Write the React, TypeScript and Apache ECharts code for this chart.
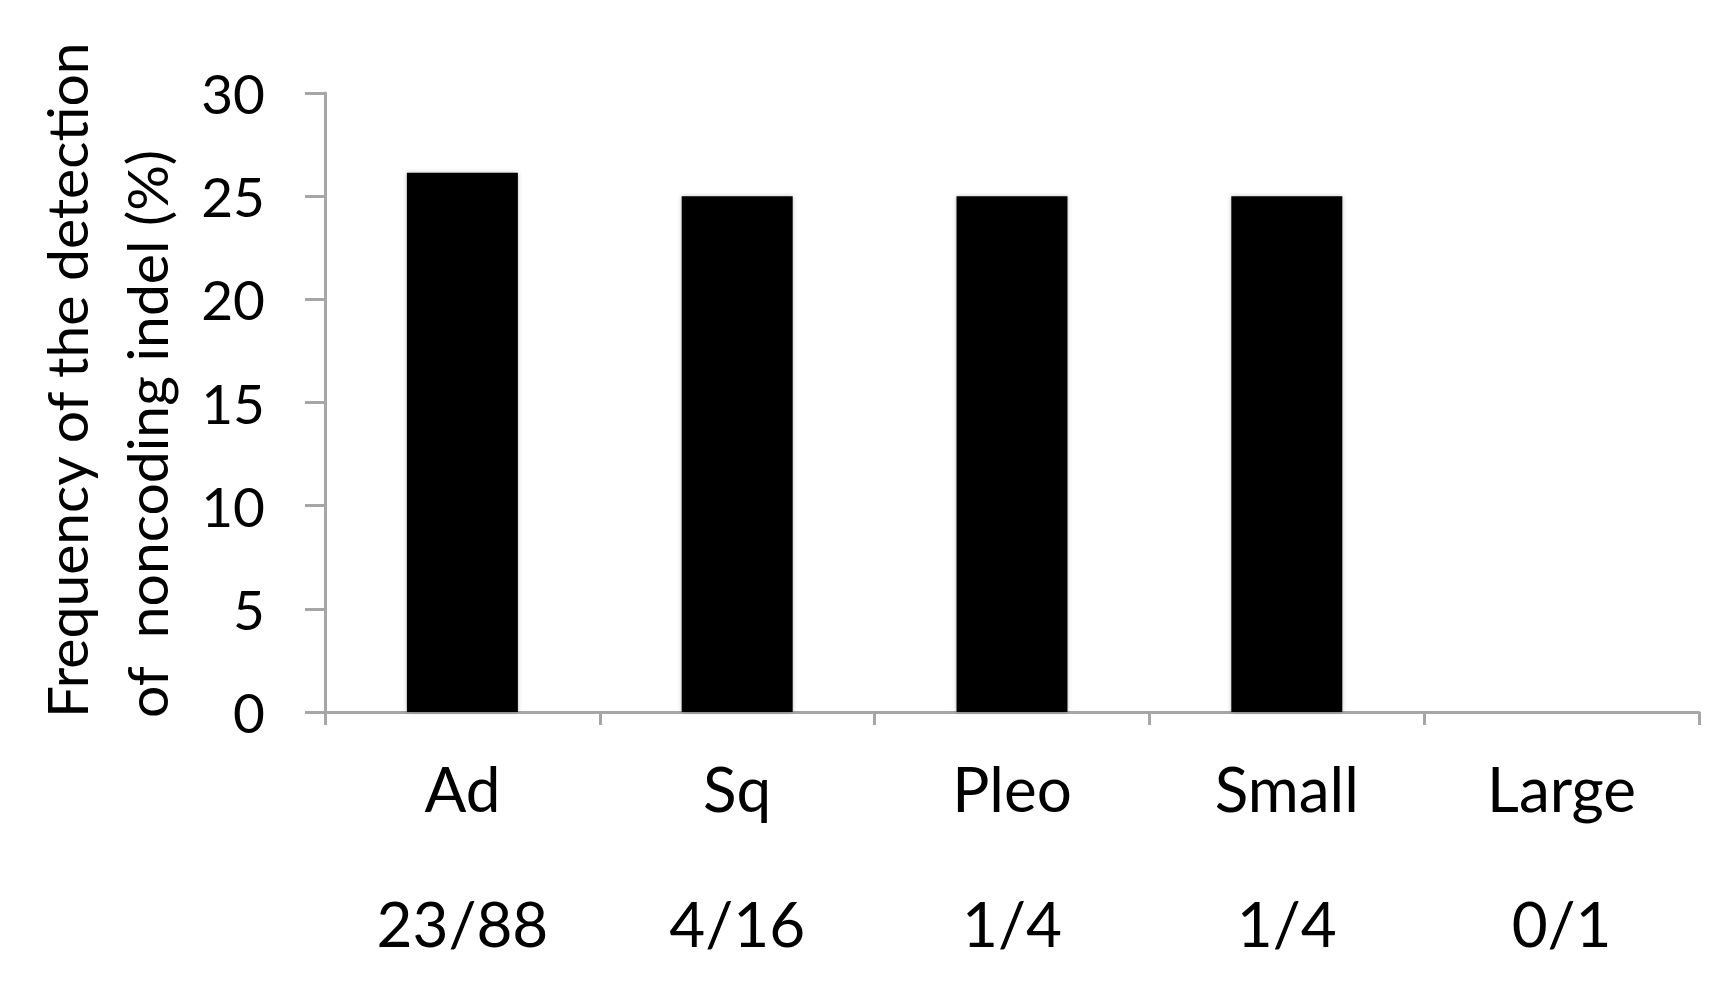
import React, { useEffect, useRef } from "react";
import * as echarts from "echarts";

const categories = ["Ad", "Sq", "Pleo", "Small", "Large"];
const counts = ["23/88", "4/16", "1/4", "1/4", "0/1"];
const frequencies = [26.14, 25, 25, 25, 0];
const yTicks = { min: 0, max: 30, interval: 5 };
const titleLines = ["Frequency of the detection", "of  noncoding indel (%)"];

const FONT = "Lato";

export default function App() {
  const ref = useRef<HTMLDivElement>(null);
  useEffect(() => {
    if (!ref.current) return;
    const chart = echarts.init(ref.current, null, { renderer: "svg" });
    chart.setOption({
      animation: false,
      backgroundColor: "#ffffff",
      grid: { left: 317, top: 85, right: 24, bottom: 277, containLabel: false },
      xAxis: {
        type: "category",
        data: categories.map((c, i) => c + "|" + counts[i]),
        axisLine: { lineStyle: { color: "#A6A6A6", width: 3 } },
        axisTick: { show: true, length: 13, lineStyle: { color: "#A6A6A6", width: 3 } },
        axisLabel: {
          margin: 8,
          interval: 0,
          formatter: (v: string) => {
            const [a, b] = v.split("|");
            return `{a|${a}}\n{b|${b}}`;
          },
          rich: {
            a: { fontFamily: FONT, fontSize: 62, color: "#000", lineHeight: 135 },
            b: { fontFamily: FONT, fontSize: 62, color: "#000", lineHeight: 135 },
          },
        },
      },
      yAxis: {
        type: "value",
        min: yTicks.min,
        max: yTicks.max,
        interval: yTicks.interval,
        splitLine: { show: false },
        axisLine: { show: true, lineStyle: { color: "#A6A6A6", width: 3 } },
        axisTick: { show: true, length: 20, lineStyle: { color: "#A6A6A6", width: 3 } },
        axisLabel: { margin: 60, fontFamily: FONT, fontSize: 55, color: "#000" },
      },
      series: [
        {
          type: "bar",
          data: frequencies,
          barWidth: 111,
          itemStyle: {
            color: "#000",
            shadowColor: "rgba(0,0,0,0.25)",
            shadowBlur: 4,
          },
        },
      ],
      graphic: titleLines.map((t, i) => ({
        type: "text",
        x: 58 + i * 80,
        y: 710,
        rotation: Math.PI / 2,
        style: {
          text: t,
          fontFamily: FONT,
          fontSize: 57,
          fill: "#000",
          textAlign: "left",
          textVerticalAlign: "middle",
        },
      })),
    });
    return () => chart.dispose();
  }, []);
  return <div ref={ref} style={{ width: 1715, height: 981 }} />;
}
